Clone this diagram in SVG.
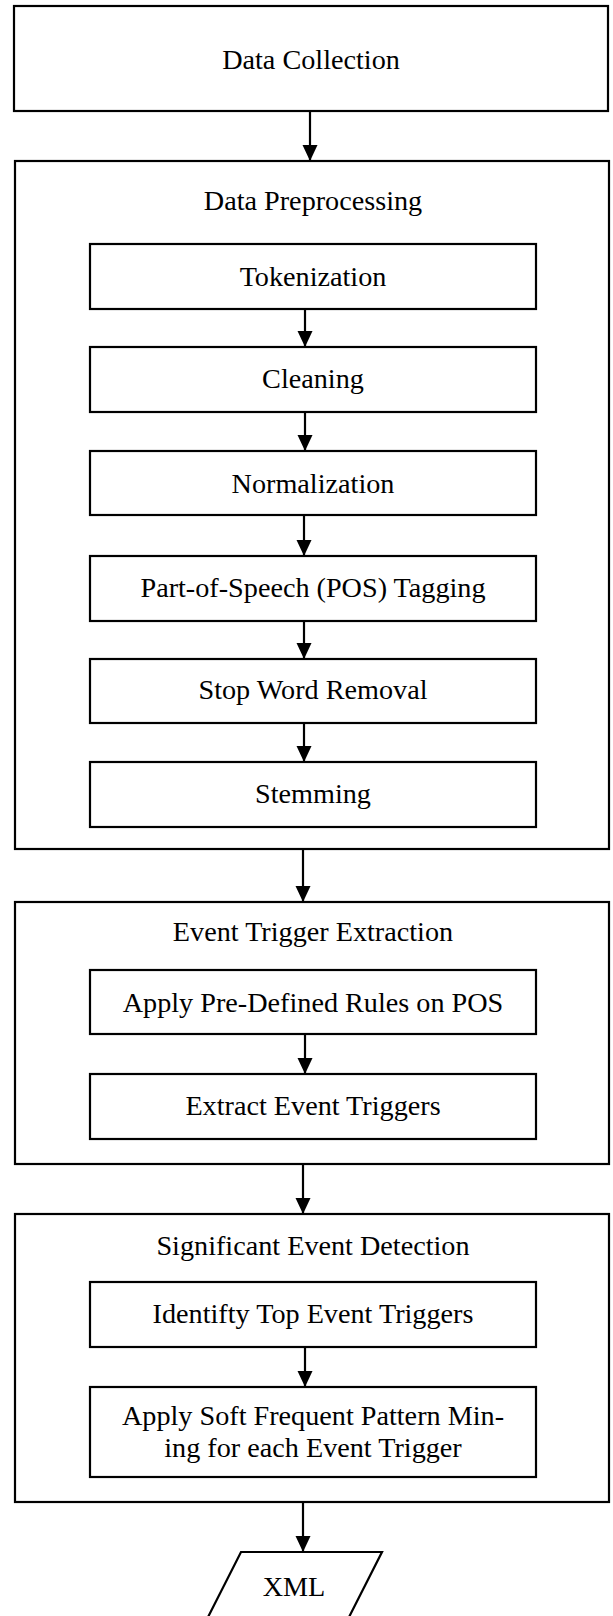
<svg xmlns="http://www.w3.org/2000/svg" width="613" height="1616" viewBox="0 0 613 1616">
  <style>
    .box { fill: #ffffff; stroke: #000000; stroke-width: 2.2; }
    .lbl { font-family: "Liberation Serif", "Times New Roman", serif; font-size: 28.2px; fill: #000000; text-anchor: middle; }
    .wire { stroke: #000000; stroke-width: 2.2; fill: none; marker-end: url(#arrow); }
  </style>
  <defs>
    <marker id="arrow" markerUnits="userSpaceOnUse" markerWidth="16" markerHeight="16" refX="16" refY="7.5" orient="auto">
      <path d="M0,0 L16,7.5 L0,15 Z" fill="#000000"/>
    </marker>
  </defs>

  <rect width="613" height="1616" fill="#ffffff"/>

  <!-- stage containers -->
  <g id="data-collection">
    <rect class="box" x="14" y="6" width="594" height="105"/>
    <text class="lbl" x="311" y="69">Data Collection</text>
  </g>

  <g id="data-preprocessing">
    <rect class="box" x="15" y="161" width="594" height="688"/>
    <text class="lbl" x="313" y="210">Data Preprocessing</text>
  </g>

  <g id="tokenization">
    <rect class="box" x="90" y="244" width="446" height="65"/>
    <text class="lbl" x="313" y="286">Tokenization</text>
  </g>

  <g id="cleaning">
    <rect class="box" x="90" y="347" width="446" height="65"/>
    <text class="lbl" x="313" y="388">Cleaning</text>
  </g>

  <g id="normalization">
    <rect class="box" x="90" y="451" width="446" height="64"/>
    <text class="lbl" x="313" y="493">Normalization</text>
  </g>

  <g id="pos-tagging">
    <rect class="box" x="90" y="556" width="446" height="65"/>
    <text class="lbl" x="313" y="597">Part-of-Speech (POS) Tagging</text>
  </g>

  <g id="stop-word-removal">
    <rect class="box" x="90" y="659" width="446" height="64"/>
    <text class="lbl" x="313" y="699">Stop Word Removal</text>
  </g>

  <g id="stemming">
    <rect class="box" x="90" y="762" width="446" height="65"/>
    <text class="lbl" x="313" y="803">Stemming</text>
  </g>

  <g id="event-trigger-extraction">
    <rect class="box" x="15" y="902" width="594" height="262"/>
    <text class="lbl" x="313" y="941">Event Trigger Extraction</text>
  </g>

  <g id="apply-rules">
    <rect class="box" x="90" y="970" width="446" height="64"/>
    <text class="lbl" x="313" y="1012">Apply Pre-Defined Rules on POS</text>
  </g>

  <g id="extract-triggers">
    <rect class="box" x="90" y="1074" width="446" height="65"/>
    <text class="lbl" x="313" y="1115">Extract Event Triggers</text>
  </g>

  <g id="significant-event-detection">
    <rect class="box" x="15" y="1214" width="594" height="288"/>
    <text class="lbl" x="313" y="1255">Significant Event Detection</text>
  </g>

  <g id="identify-top-triggers">
    <rect class="box" x="90" y="1282" width="446" height="65"/>
    <text class="lbl" x="313" y="1323">Identifty Top Event Triggers</text>
  </g>

  <g id="soft-fpm">
    <rect class="box" x="90" y="1387" width="446" height="90"/>
    <text class="lbl" x="313" y="1425">Apply Soft Frequent Pattern Min-</text>
    <text class="lbl" x="313" y="1457">ing for each Event Trigger</text>
  </g>

  <g id="xml-output">
    <polygon class="box" points="241,1552 382,1552 345,1625 204,1625"/>
    <text class="lbl" x="294" y="1596">XML</text>
  </g>

  <!-- connectors -->
  <g id="connectors">
    <line class="wire" x1="310" y1="111" x2="310" y2="161"/>
    <line class="wire" x1="305" y1="309" x2="305" y2="347"/>
    <line class="wire" x1="305" y1="412" x2="305" y2="451"/>
    <line class="wire" x1="304" y1="515" x2="304" y2="556"/>
    <line class="wire" x1="304" y1="621" x2="304" y2="659"/>
    <line class="wire" x1="304" y1="723" x2="304" y2="762"/>
    <line class="wire" x1="303" y1="849" x2="303" y2="902"/>
    <line class="wire" x1="305" y1="1034" x2="305" y2="1074"/>
    <line class="wire" x1="303" y1="1164" x2="303" y2="1214"/>
    <line class="wire" x1="305" y1="1347" x2="305" y2="1387"/>
    <line class="wire" x1="303" y1="1502" x2="303" y2="1552"/>
  </g>
</svg>
